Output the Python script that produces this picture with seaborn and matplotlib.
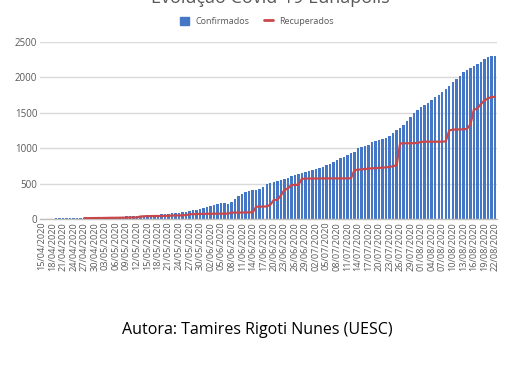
import numpy as np
import pandas as pd
import matplotlib
matplotlib.use("Agg")
import matplotlib.pyplot as plt
import seaborn as sns
from matplotlib.patches import Patch
from matplotlib.lines import Line2D

dates = pd.date_range("2020-04-15", "2020-08-22", freq="D")
date_labels = [d.strftime("%d/%m/%Y") for d in dates]

confirmados = [
    2, 3, 4, 6, 8, 9, 10, 11, 12, 12,
    13, 14, 15, 16, 17, 18, 19, 20, 22, 23,
    25, 27, 29, 31, 38, 40, 40, 42, 44, 47,
    50, 52, 55, 60, 65, 70, 72, 78, 82, 88,
    95, 105, 115, 125, 130, 140, 150, 165, 180, 195,
    210, 220, 222, 215, 240, 280, 320, 350, 380, 400,
    405, 410, 420, 450, 490, 510, 520, 530, 545, 560,
    580, 600, 615, 630, 645, 660, 670, 690, 705, 720,
    740, 760, 780, 800, 830, 860, 880, 900, 930, 950,
    1000, 1010, 1030, 1050, 1080, 1100, 1110, 1125, 1140, 1170,
    1210, 1250, 1290, 1320, 1380, 1440, 1500, 1540, 1580, 1610,
    1640, 1680, 1720, 1750, 1790, 1830, 1880, 1930, 1970, 2010,
    2070, 2100, 2130, 2160, 2190, 2220, 2260, 2290, 2300, 2305,
]

recuperados = [
    np.nan, np.nan, np.nan, np.nan, np.nan, np.nan, np.nan, np.nan, np.nan, np.nan,
    np.nan, np.nan, 12, 12, 13, 13, 14, 14, 15, 16,
    17, 17, 18, 19, 20, 21, 22, 22, 35, 38,
    40, 40, 42, 42, 42, 45, 45, 48, 50, 50,
    52, 55, 66, 68, 70, 72, 72, 74, 74, 75,
    75, 75, 76, 76, 90, 90, 90, 92, 92, 94,
    94, 173, 175, 175, 178, 200, 268, 270, 330, 408,
    430, 479, 480, 482, 565, 570, 570, 570, 570, 572,
    572, 572, 572, 572, 572, 572, 572, 572, 575, 690,
    695, 700, 705, 710, 715, 718, 720, 725, 728, 735,
    745, 760, 1066, 1066, 1068, 1068, 1070, 1072, 1088, 1090,
    1090, 1090, 1090, 1090, 1090, 1095, 1250, 1260, 1263, 1263,
    1265, 1270, 1330, 1540, 1560, 1620, 1670, 1700, 1720, 1722,
]

title = "Evolução Covid-19 Eunápolis"
caption = "Autora: Tamires Rigoti Nunes (UESC)"
y_ticks = [0, 500, 1000, 1500, 2000, 2500]

df = pd.DataFrame({
    "idx": np.arange(len(dates)),
    "data": date_labels,
    "Confirmados": confirmados,
    "Recuperados": recuperados,
})

sns.set_theme(style="white")
plt.rcParams["font.family"] = ["Open Sans", "DejaVu Sans"]

BLUE = "#4677C6"
RED = "#C9474A"
GRAY = "#595959"

fig = plt.figure(figsize=(5.14, 3.86), dpi=100)
ax = fig.add_axes([40/514, 1 - 219/386, 457/514, (219 - 41.7)/386])

sns.barplot(data=df, x="idx", y="Confirmados", color=BLUE, width=0.7,
            saturation=1, ax=ax, linewidth=0)
sns.lineplot(data=df, x="idx", y="Recuperados", color=RED, linewidth=1.6,
             ax=ax, zorder=5)

ax.set_xlim(-0.6, len(dates) - 0.4)
ax.set_ylim(0, 2500)
ax.set_yticks(y_ticks)
ax.set_yticklabels([str(v) for v in y_ticks], color=GRAY, fontsize=7)
ax.yaxis.grid(True, color="#D9D9D9", linewidth=1)
ax.set_axisbelow(True)

tick_pos = list(range(0, len(dates), 3))
ax.set_xticks(tick_pos)
ax.set_xticklabels([date_labels[i] for i in tick_pos], rotation=90,
                   fontsize=6.6, color=GRAY)
ax.tick_params(axis="both", length=0, pad=2)
ax.set_xlabel("")
ax.set_ylabel("")
for s in ["top", "right", "left"]:
    ax.spines[s].set_visible(False)
ax.spines["bottom"].set_color("#BFBFBF")
ax.spines["bottom"].set_linewidth(1)

fig.text(0.525, 0.993, title, ha="center", va="baseline", fontsize=13,
         color=GRAY)

handles = [Patch(facecolor=BLUE, edgecolor=BLUE, label="Confirmados"),
           Line2D([0], [0], color=RED, linewidth=2, label="Recuperados")]
fig.legend(handles=handles, loc="center", bbox_to_anchor=(0.5, 0.945),
           ncol=2, frameon=False, fontsize=6.5, labelcolor=GRAY,
           handlelength=1.0, handleheight=1.1, columnspacing=1.6,
           handletextpad=0.7)

fig.text(0.5, 1 - 330/386, caption, ha="center", va="center", fontsize=11.5,
         color="black")

fig.savefig("out.png", dpi=100, facecolor="white")
